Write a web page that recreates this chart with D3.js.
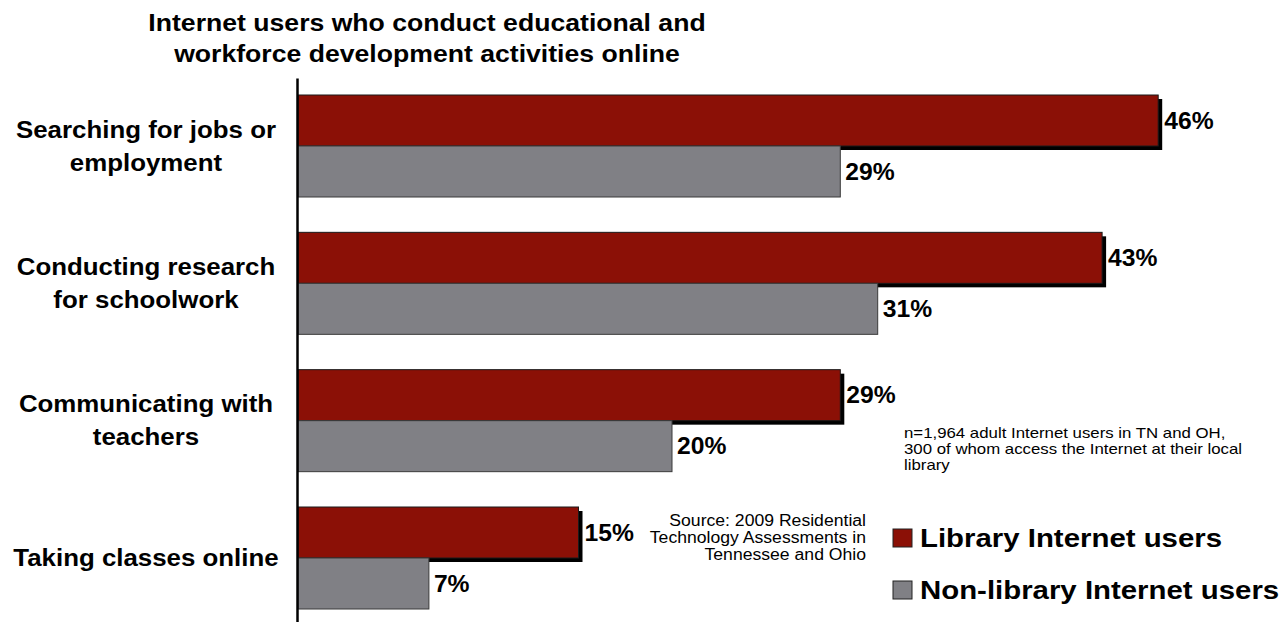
<!DOCTYPE html>
<html><head><meta charset="utf-8">
<script src="https://cdn.jsdelivr.net/npm/d3@7"></script>
<style>
body{margin:0;background:#fff}
svg{display:block}
text{font-family:"Liberation Sans", Arial, sans-serif;fill:#000}
</style>
</head><body>
<svg id="chart" width="1287" height="622"></svg>
<script>
// ---- data ----
const categories = ["jobs", "research", "teachers", "classes"];
const categoryLabels = [
  ["Searching for jobs or", "employment"],
  ["Conducting research", "for schoolwork"],
  ["Communicating with", "teachers"],
  ["Taking classes online"]
];
const seriesNames = ["Library Internet users", "Non-library Internet users"];
const libraryValues = [46, 43, 29, 15];
const nonLibraryValues = [29, 31, 20, 7];
const titleLines = ["Internet users who conduct educational and", "workforce development activities online"];
const sampleNote = ["n=1,964 adult Internet users in TN and OH,", "300 of whom access the Internet at their local", "library"];
const sourceNote = ["Source: 2009 Residential", "Technology Assessments in", "Tennessee and Ohio"];

// ---- setup ----
const svg = d3.select("#chart");
const colors = {lib: "#8b1006", non: "#808085"};
const x = d3.scaleLinear().domain([0, 50]).range([298, 1233]);
const y = d3.scalePoint().domain(categories).range([146, 558]);
const sub = d3.scaleBand().domain(seriesNames).range([-51, 51]);
const yAxisScale = d3.scaleLinear().domain([0, 1]).range([78, 622]);

function stretch(sel, s) {
  sel.each(function () {
    const w = this.getComputedTextLength();
    this.setAttribute("textLength", w * s);
    this.setAttribute("lengthAdjust", "spacingAndGlyphs");
  });
}

const rows = categories.map((c, i) => ({cat: c, lib: libraryValues[i], non: nonLibraryValues[i], lines: categoryLabels[i]}));

// shadows for library bars
svg.append("g").selectAll("rect").data(rows).join("rect")
  .attr("x", x(0) + 4)
  .attr("y", d => y(d.cat) + sub(seriesNames[0]) + 4)
  .attr("width", d => x(d.lib) - x(0))
  .attr("height", sub.bandwidth())
  .attr("fill", "#000");

// library bars
svg.append("g").selectAll("rect").data(rows).join("rect")
  .attr("x", x(0))
  .attr("y", d => y(d.cat) + sub(seriesNames[0]))
  .attr("width", d => x(d.lib) - x(0))
  .attr("height", sub.bandwidth())
  .attr("fill", colors.lib)
  .attr("stroke", "#1a1a1a").attr("stroke-width", 1);

// non-library bars
svg.append("g").selectAll("rect").data(rows).join("rect")
  .attr("x", x(0))
  .attr("y", d => y(d.cat) + sub(seriesNames[1]))
  .attr("width", d => x(d.non) - x(0))
  .attr("height", sub.bandwidth())
  .attr("fill", colors.non)
  .attr("stroke", "#3a3a3a").attr("stroke-width", 1);

// axis line
const axisG = svg.append("g").attr("transform", "translate(297,0)")
  .call(d3.axisLeft(yAxisScale).tickValues([]).tickSizeOuter(0));
axisG.select(".domain").attr("stroke", "#000").attr("stroke-width", 2.5);

// value labels
const vl = svg.append("g").attr("font-weight", "bold").attr("font-size", 23.5);
vl.selectAll("text.lib").data(rows).join("text").attr("class", "lib")
  .attr("x", d => x(d.lib) + 6)
  .attr("y", d => y(d.cat) + sub(seriesNames[0]) + sub.bandwidth() / 2 + 8)
  .text(d => d.lib + "%").call(stretch, 1.05);
vl.selectAll("text.non").data(rows).join("text").attr("class", "non")
  .attr("x", d => x(d.non) + 5)
  .attr("y", d => y(d.cat) + sub(seriesNames[1]) + sub.bandwidth() / 2 + 8)
  .text(d => d.non + "%").call(stretch, 1.05);

// category labels
const cl = svg.append("g").attr("font-weight", "bold").attr("font-size", 23.5).attr("text-anchor", "middle");
rows.forEach(d => {
  const n = d.lines.length;
  d.lines.forEach((ln, j) => {
    cl.append("text")
      .attr("x", 146)
      .attr("y", y(d.cat) + 8 + (j - (n - 1) / 2) * 33)
      .text(ln).call(stretch, 1.1);
  });
});

// title
const tg = svg.append("g").attr("font-weight", "bold").attr("font-size", 24.2).attr("text-anchor", "middle");
titleLines.forEach((t, i) => {
  tg.append("text").attr("x", 427).attr("y", 31 + i * 31).text(t).call(stretch, 1.1);
});

// legend
const lg = svg.append("g");
seriesNames.forEach((s, i) => {
  lg.append("rect").attr("x", 893).attr("y", 529 + i * 52).attr("width", 19).attr("height", 18)
    .attr("fill", i === 0 ? colors.lib : colors.non).attr("stroke", "#222").attr("stroke-width", 1);
  lg.append("text").attr("x", 920).attr("y", 547 + i * 52)
    .attr("font-weight", "bold").attr("font-size", 26).text(s).call(stretch, 1.13);
});

// notes
const ng = svg.append("g").attr("font-size", 15);
sampleNote.forEach((t, i) => {
  ng.append("text").attr("x", 904).attr("y", 438 + i * 16).text(t).call(stretch, 1.12);
});
const sg = svg.append("g").attr("font-size", 16).attr("text-anchor", "end");
sourceNote.forEach((t, i) => {
  sg.append("text").attr("x", 866).attr("y", 526 + i * 17).text(t).call(stretch, 1.1);
});
</script>
</body></html>
